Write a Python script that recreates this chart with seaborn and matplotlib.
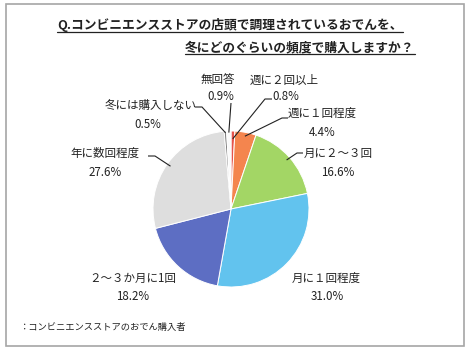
import matplotlib
matplotlib.use("Agg")
import matplotlib.pyplot as plt
import matplotlib.patches as mpatches
import numpy as np
import seaborn as sns

# ---- data ----
categories = ["週に２回以上", "週に１回程度", "月に２～３回", "月に１回程度",
              "２～３か月に1回", "年に数回程度", "冬には購入しない", "無回答"]
values = [0.8, 4.4, 16.6, 31.0, 18.2, 27.6, 0.5, 0.9]
colors_hex = ["#E5534B", "#F4854E", "#A3D665", "#62C3EE",
              "#5D6EC3", "#DEDEDE", "#7F7F7F", "#FAFAFA"]
title_lines = ["Q.コンビニエンスストアの店頭で調理されているおでんを、",
               "冬にどのぐらいの頻度で購入しますか？"]
footnote = "：コンビニエンスストアのおでん購入者"

sns.set_theme(style="white")
plt.rcParams['font.family'] = ['Noto Sans CJK JP', 'DejaVu Sans']

W, H = 470, 350
fig = plt.figure(figsize=(W / 100, H / 100), dpi=100)
ax = fig.add_axes([0, 0, 1, 1])

def P(px, py):
    return px, H - py

cx, cy = P(231, 209)
R = 78
palette = sns.color_palette(colors_hex)
wedges, _ = ax.pie(values, colors=palette, startangle=90, counterclock=False,
                   center=(cx, cy), radius=R, frame=True,
                   wedgeprops=dict(edgecolor="white", linewidth=0.7))
ax.set_xlim(0, W)
ax.set_ylim(0, H)
ax.set_aspect("equal")
ax.axis("off")

layout = {
    0: dict(lab=(284, 80), pct=(286, 97), line=[(272, 99), (265, 99)], frac=0.9),
    1: dict(lab=(322, 113), pct=(322, 132), line=[(288, 118), (282, 118)], frac=0.95),
    2: dict(lab=(338, 153), pct=(338, 172), line=[(303, 153), (297, 153)], frac=0.95),
    3: dict(lab=(326, 278), pct=(327, 297), line=None),
    4: dict(lab=(133, 278), pct=(133, 297), line=None),
    5: dict(lab=(105, 153), pct=(105, 172), line=[(148, 156), (155, 156)], frac=0.95),
    6: dict(lab=(151, 105), pct=(148, 124), line=[(195, 107), (202, 107)], frac=0.98),
    7: dict(lab=(218, 80), pct=(221, 97), line=[(231, 103)], frac=0.98),
}

fs = 8.3
for i, w in enumerate(wedges):
    L = layout[i]
    ax.text(*P(*L["lab"]), categories[i], ha="center", va="center", fontsize=fs, color="#222222")
    ax.text(*P(*L["pct"]), f"{values[i]:.1f}%", ha="center", va="center", fontsize=fs, color="#222222")
    if L["line"]:
        ang = np.deg2rad((w.theta1 + w.theta2) / 2)
        ex = cx + R * L["frac"] * np.cos(ang)
        ey = cy + R * L["frac"] * np.sin(ang)
        pts = [P(*p) for p in L["line"]] + [(ex, ey)]
        xs, ys = zip(*pts)
        ax.plot(xs, ys, color="#222222", lw=0.8, solid_capstyle="butt")

# title
t1 = ax.text(*P(57, 25), title_lines[0], ha="left", va="center", fontsize=9.2, fontweight="bold", color="#222222")
t2 = ax.text(*P(185, 48), title_lines[1], ha="left", va="center", fontsize=9.2, fontweight="bold", color="#222222")
fig.canvas.draw()
r = fig.canvas.get_renderer()
inv = ax.transData.inverted()
for t in (t1, t2):
    bb = t.get_window_extent(r)
    (x0, y0), (x1, y1) = inv.transform([(bb.x0, bb.y0), (bb.x1, bb.y1)])
    ax.plot([x0, x1], [y0 + 0.5, y0 + 0.5], color="#222222", lw=0.9)

# footnote
ax.text(*P(19, 327), footnote, ha="left", va="center", fontsize=6.7, color="#222222")

# border
ax.add_patch(mpatches.Rectangle(P(6, 346), 458, 342, fill=False, edgecolor="#A6A6A6", lw=1.2))

fig.savefig("out.png", dpi=100)
